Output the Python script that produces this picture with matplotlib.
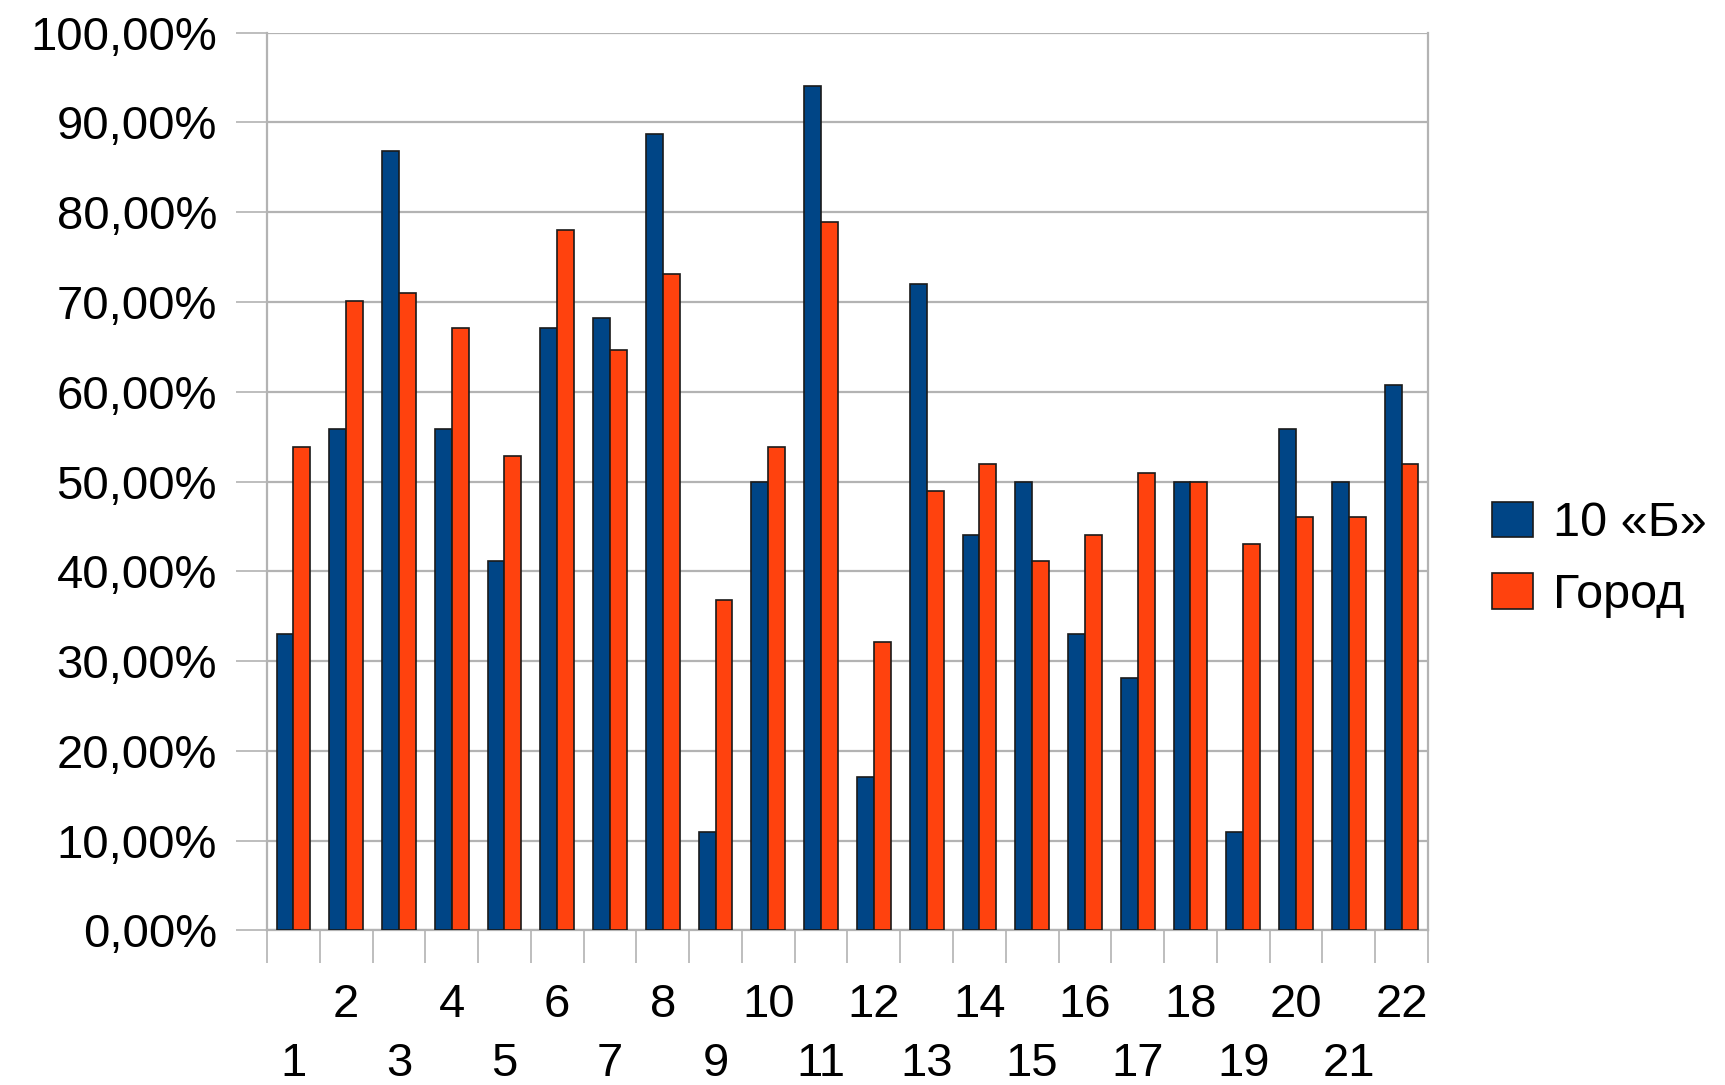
import matplotlib
matplotlib.use("Agg")
import matplotlib.pyplot as plt
import numpy as np

plt.rcParams['font.family'] = ['Liberation Sans', 'DejaVu Sans']

questions = [str(i) for i in range(1, 23)]
class_10b = [33, 55.8, 86.8, 55.8, 41.2, 67.1, 68.2, 88.7, 11, 50, 94, 17.1,
             72, 44, 50, 33, 28.1, 50, 11, 55.8, 50, 60.7]
city = [53.9, 70.1, 71, 67.1, 52.8, 78, 64.7, 73.1, 36.8, 53.9, 78.9, 32.1,
        48.9, 51.9, 41.2, 44, 50.9, 50, 43, 46, 46, 51.9]
series_names = ['10 «Б»', 'Город']

blue = '#004586'
orange = '#ff420e'
grid_col = '#b3b3b3'

fig = plt.figure(figsize=(17.25, 10.85), dpi=100)
ax = fig.add_axes([0.1548, 0.1424, 0.6730, 0.8276])

x = np.arange(len(questions))
w = 0.32
ax.bar(x - w / 2, class_10b, width=w, color=blue, edgecolor='#1a1a1a', linewidth=1.2,
       label=series_names[0], zorder=3)
ax.bar(x + w / 2, city, width=w, color=orange, edgecolor='#1a1a1a', linewidth=1.2,
       label=series_names[1], zorder=3)

ax.set_xlim(-0.5, len(questions) - 0.5)
ax.set_ylim(0, 100)

# y axis
yt = np.arange(0, 101, 10)
ax.set_yticks(yt)
ax.set_yticklabels([f'{v:.2f}%'.replace('.', ',') for v in yt], fontsize=34)
ax.yaxis.grid(True, color=grid_col, linewidth=1.6, zorder=0)
ax.tick_params(axis='y', length=22, width=1.2, color=grid_col, pad=14)

# x axis: ticks on category borders, labels staggered in two rows
ax.set_xticks(np.arange(-0.5, len(questions), 1.0))
ax.set_xticklabels([])
ax.tick_params(axis='x', which='major', length=24, width=1.2, color=grid_col)
ax.set_xticks(x, minor=True)
ax.set_xticklabels([q if i % 2 == 1 else '\n' + q for i, q in enumerate(questions)],
                   minor=True, fontsize=34, va='top')
ax.tick_params(axis='x', which='minor', length=0, pad=38)
for lbl in ax.get_xticklabels(minor=True):
    lbl.set_linespacing(1.42)

for side in ['left', 'right', 'bottom']:
    ax.spines[side].set_color(grid_col)
    ax.spines[side].set_linewidth(1.6)
ax.spines['top'].set_visible(False)

fig.legend(loc='center left', bbox_to_anchor=(0.865, 0.484), frameon=False,
           fontsize=35, handlelength=0.85, handleheight=0.75, handletextpad=0.4,
           labelspacing=0.55, borderpad=0, borderaxespad=0)

fig.savefig('out.png', dpi=100, facecolor='white')
